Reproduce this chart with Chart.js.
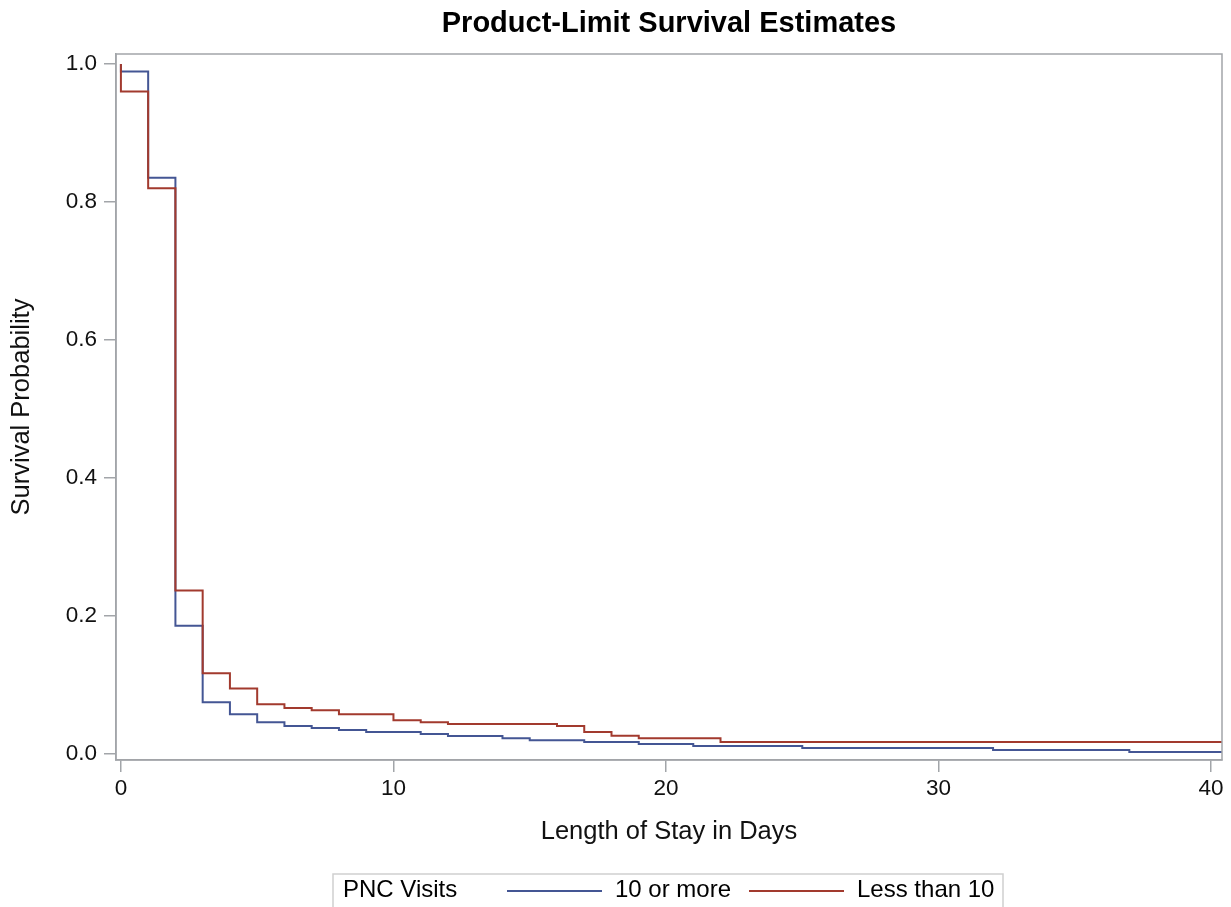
<!DOCTYPE html>
<html>
<head>
<meta charset="utf-8">
<script src="https://cdn.jsdelivr.net/npm/chart.js@4/dist/chart.umd.min.js"></script>
<style>
  html, body { margin: 0; padding: 0; background: #ffffff; }
  #wrap { width: 1231px; height: 907px; position: relative; }
</style>
</head>
<body>
<div id="wrap"><canvas id="c"></canvas></div>
<script>
// ---- Data (Kaplan-Meier step points) ----
const seriesNames = ['10 or more', 'Less than 10'];

const blueDays   = [0, 0, 1, 2, 3, 4, 5, 6, 7, 8, 9, 11, 12, 14, 15, 17, 19, 21, 25, 32, 37, 41];
const blueValues = [1.0, 0.989, 0.835, 0.186, 0.075, 0.0575, 0.046, 0.0406, 0.0377, 0.0348, 0.0319,
                    0.029, 0.026, 0.023, 0.020, 0.0174, 0.0145, 0.0116, 0.0087, 0.0058, 0.0029, 0.0029];

const redDays    = [0, 0, 1, 2, 3, 4, 5, 6, 7, 8, 10, 11, 12, 16, 17, 18, 19, 22, 41];
const redValues  = [1.0, 0.960, 0.820, 0.237, 0.117, 0.095, 0.072, 0.0667, 0.0633, 0.0575, 0.0488,
                    0.046, 0.0435, 0.0406, 0.032, 0.0266, 0.023, 0.0174, 0.0174];

const xTickValues = [0, 10, 20, 30, 40];
const yTickValues = [0.0, 0.2, 0.4, 0.6, 0.8, 1.0];

const titleText = 'Product-Limit Survival Estimates';
const xTitle = 'Length of Stay in Days';
const yTitle = 'Survival Probability';
const legendTitle = 'PNC Visits';

const BLUE = '#445694';
const RED = '#A23A2E';
const AXIS = '#a2a5a9';
const FONT = "'Liberation Sans', Arial, sans-serif";

function toPoints(xs, ys) { return xs.map((x, i) => ({ x: x, y: ys[i] })); }

// Frame around plot area
const framePlugin = {
  id: 'frame',
  afterDatasetsDraw(chart) {
    const { ctx, chartArea: a } = chart;
    ctx.save();
    ctx.strokeStyle = AXIS;
    ctx.lineWidth = 1.5;
    ctx.strokeRect(a.left, a.top, a.right - a.left, a.bottom - a.top);
    ctx.restore();
  }
};

// SAS-style boxed legend at the bottom
const legendPlugin = {
  id: 'sasLegend',
  afterDraw(chart) {
    const { ctx, chartArea: a } = chart;
    const cx = (a.left + a.right) / 2;
    const boxL = cx - 336, boxR = cx + 334, boxT = 874, y = 890;
    ctx.save();
    ctx.strokeStyle = '#cfcfcf';
    ctx.lineWidth = 1.5;
    ctx.strokeRect(boxL, boxT, boxR - boxL, 60);
    ctx.font = '24px ' + FONT;
    ctx.fillStyle = '#000';
    ctx.textBaseline = 'middle';
    ctx.textAlign = 'left';
    ctx.fillText(legendTitle, boxL + 10, y);
    const items = [
      { color: BLUE, text: seriesNames[0], x0: boxL + 174 },
      { color: RED, text: seriesNames[1], x0: boxL + 416 }
    ];
    items.forEach(it => {
      ctx.strokeStyle = it.color;
      ctx.lineWidth = 2;
      ctx.beginPath();
      ctx.moveTo(it.x0, y + 1);
      ctx.lineTo(it.x0 + 95, y + 1);
      ctx.stroke();
      ctx.fillText(it.text, it.x0 + 108, y);
    });
    ctx.restore();
  }
};

new Chart(document.getElementById('c'), {
  type: 'line',
  data: {
    datasets: [
      {
        label: seriesNames[0],
        data: toPoints(blueDays, blueValues),
        borderColor: BLUE,
        borderWidth: 2,
        stepped: 'before',
        pointRadius: 0,
        fill: false,
        order: 1
      },
      {
        label: seriesNames[1],
        data: toPoints(redDays, redValues),
        borderColor: RED,
        borderWidth: 2,
        stepped: 'before',
        pointRadius: 0,
        fill: false,
        order: 0
      }
    ]
  },
  options: {
    responsive: true,
    maintainAspectRatio: false,
    animation: false,
    parsing: false,
    layout: { padding: { left: 0, right: 9, top: 0, bottom: 47 } },
    plugins: {
      legend: { display: false },
      tooltip: { enabled: false },
      title: {
        display: true,
        fullSize: false,
        text: titleText,
        color: '#000',
        font: { family: FONT, size: 29, weight: 'bold', lineHeight: 1.2 },
        padding: { top: 7, bottom: 12.2 }
      }
    },
    scales: {
      x: {
        type: 'linear',
        min: -0.18,
        max: 40.4,
        afterBuildTicks(scale) { scale.ticks = xTickValues.map(v => ({ value: v })); },
        afterFit(scale) { scale.height = 100; },
        ticks: {
          autoSkip: false,
          maxRotation: 0,
          color: '#111',
          padding: 3,
          font: { family: FONT, size: 22.5 },
          callback: v => String(v)
        },
        grid: { drawOnChartArea: false, drawTicks: true, tickLength: 12, color: AXIS, lineWidth: 1.5 },
        border: { display: true, color: AXIS, width: 1.5 },
        title: {
          display: true,
          text: xTitle,
          color: '#111',
          font: { family: FONT, size: 25.5, lineHeight: 1.2 },
          padding: { top: 0, bottom: 12.7 }
        }
      },
      y: {
        type: 'linear',
        min: -0.0087,
        max: 1.0145,
        afterBuildTicks(scale) { scale.ticks = yTickValues.map(v => ({ value: v })); },
        afterFit(scale) { scale.width = 116; },
        ticks: {
          autoSkip: false,
          color: '#111',
          padding: 7,
          font: { family: FONT, size: 22.5 },
          callback: v => Number(v).toFixed(1)
        },
        grid: { drawOnChartArea: false, drawTicks: true, tickLength: 12, color: AXIS, lineWidth: 1.5 },
        border: { display: true, color: AXIS, width: 1.5 },
        title: {
          display: true,
          text: yTitle,
          color: '#111',
          font: { family: FONT, size: 25.5, lineHeight: 1.2 },
          padding: { top: 7, bottom: 0 }
        }
      }
    }
  },
  plugins: [framePlugin, legendPlugin]
});
</script>
</body>
</html>
